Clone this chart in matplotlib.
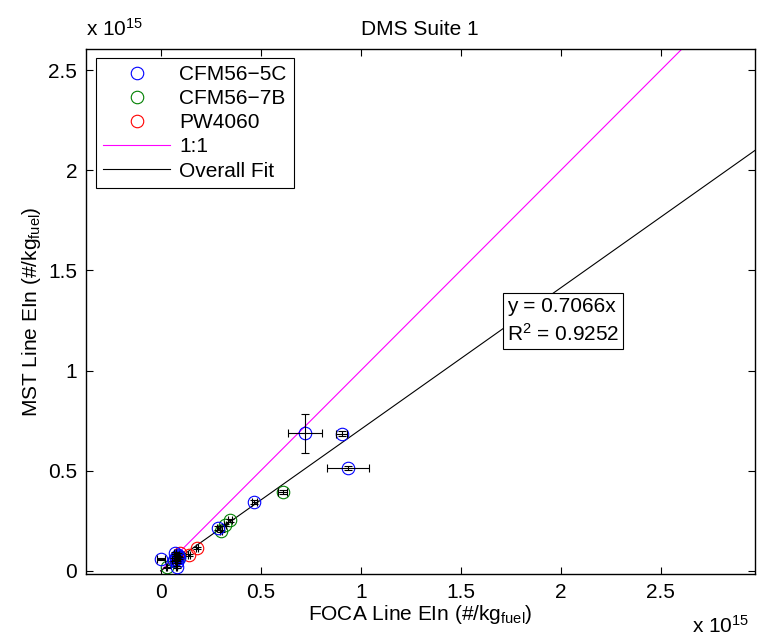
import matplotlib
matplotlib.use("Agg")
import matplotlib.pyplot as plt
from matplotlib.ticker import FuncFormatter

plt.rcParams['font.family'] = ['Liberation Sans', 'DejaVu Sans']
plt.rcParams['mathtext.fontset'] = 'custom'
plt.rcParams['mathtext.rm'] = 'Liberation Sans'
plt.rcParams['mathtext.it'] = 'Liberation Sans:italic'
plt.rcParams['mathtext.bf'] = 'Liberation Sans:bold'

# Emission indices in units of 1e15 #/kg_fuel
cfm5c_x = [0.721, 0.905, 0.934, 0.468, 0.288, 0.000, 0.065, 0.075, 0.085, 0.090, 0.080, 0.072, 0.080, 0.078, 0.088]
cfm5c_y = [0.686, 0.684, 0.512, 0.344, 0.212, 0.060, 0.055, 0.070, 0.080, 0.062, 0.045, 0.088, 0.020, 0.060, 0.072]
cfm5c_xerr = [0.087, 0.027, 0.105, 0.012, 0.008, 0.020, 0.006, 0.005, 0.006, 0.005, 0.004, 0.005, 0.004, 0.004, 0.004]
cfm5c_yerr = [0.096, 0.012, 0.010, 0.012, 0.010, 0.006, 0.008, 0.006, 0.008, 0.005, 0.004, 0.006, 0.004, 0.004, 0.004]

cfm7b_x = [0.610, 0.346, 0.321, 0.300, 0.030, 0.068, 0.093]
cfm7b_y = [0.394, 0.253, 0.228, 0.200, 0.017, 0.050, 0.067]
cfm7b_xerr = [0.023, 0.008, 0.006, 0.006, 0.004, 0.004, 0.004]
cfm7b_yerr = [0.010, 0.008, 0.006, 0.006, 0.004, 0.004, 0.004]

pw_x = [0.180, 0.143, 0.095]
pw_y = [0.112, 0.080, 0.088]
pw_xerr = [0.005, 0.005, 0.004]
pw_yerr = [0.005, 0.005, 0.004]

fit_slope = 0.7066
fit_r2 = 0.9252
line_x = [0.0, 3.0]

xticks = [0, 0.5, 1, 1.5, 2, 2.5]
yticks = [0, 0.5, 1, 1.5, 2, 2.5]

FS = 15

fig = plt.figure(figsize=(7.58, 6.39), dpi=100)
ax = fig.add_axes([0.113, 0.101, 0.883, 0.823])

groups = [
    ("CFM56\u22125C", (0, 0, 1), cfm5c_x, cfm5c_y, cfm5c_xerr, cfm5c_yerr, 2.6),
    ("CFM56\u22127B", (0, 0.5, 0), cfm7b_x, cfm7b_y, cfm7b_xerr, cfm7b_yerr, 2.4),
    ("PW4060", (1, 0, 0), pw_x, pw_y, pw_xerr, pw_yerr, 2.2),
]
for label, color, gx, gy, gxe, gye, z in groups:
    ax.plot(gx, gy, linestyle='none', marker='o', markersize=9,
            markerfacecolor='none', markeredgecolor=color, markeredgewidth=0.8,
            label=label, zorder=z)
    ax.errorbar(gx, gy, xerr=gxe, yerr=gye, fmt='none', ecolor='k',
                elinewidth=0.8, capsize=3, capthick=0.8, zorder=z + 0.05)

ax.plot(line_x, line_x, color=(1, 0, 1), linewidth=0.8, label='1:1', zorder=2)
ax.plot(line_x, [fit_slope * v for v in line_x], color='k', linewidth=0.8,
        label='Overall Fit', zorder=2)

ax.text(1.73, 1.248, f"y = {fit_slope:.4f}x\nR$^2$ = {fit_r2:.4f}",
        fontsize=FS, ha='left', va='center', linespacing=1.35,
        bbox=dict(facecolor='white', edgecolor='k', linewidth=0.8,
                  boxstyle='square,pad=0.2'), zorder=5)

ax.set_xlim(-0.375, 2.97)
ax.set_ylim(-0.018, 2.607)
ax.set_xticks(xticks)
ax.set_yticks(yticks)
fmt = FuncFormatter(lambda v, p: f"{v:g}")
ax.xaxis.set_major_formatter(fmt)
ax.yaxis.set_major_formatter(fmt)
ax.tick_params(direction='in', length=5, width=0.8, top=True, right=True,
               labelsize=FS, pad=6)
for s in ax.spines.values():
    s.set_linewidth(1.0)

ax.set_title("DMS Suite 1", fontsize=FS, pad=10)
ax.set_xlabel(r"FOCA Line EIn (#/kg$_{\rm fuel}$)", fontsize=FS, labelpad=1)
ax.set_ylabel(r"MST Line EIn (#/kg$_{\rm fuel}$)", fontsize=FS, labelpad=4)

fig.text(86 / 758, 1 - 40 / 639, r"x 10$^{15}$", fontsize=FS, ha='left', va='bottom')
fig.text(692 / 758, 2 / 639, r"x 10$^{15}$", fontsize=FS, ha='left', va='bottom')

leg = ax.legend(loc='upper left', bbox_to_anchor=(0.0154, 0.983), borderaxespad=0,
                fontsize=FS, fancybox=False, framealpha=1, edgecolor='k',
                handlelength=3.2, handletextpad=0.45, labelspacing=0.25,
                borderpad=0.35)
leg.get_frame().set_linewidth(0.8)
leg.set_zorder(10)

fig.savefig("out.png", dpi=100)
